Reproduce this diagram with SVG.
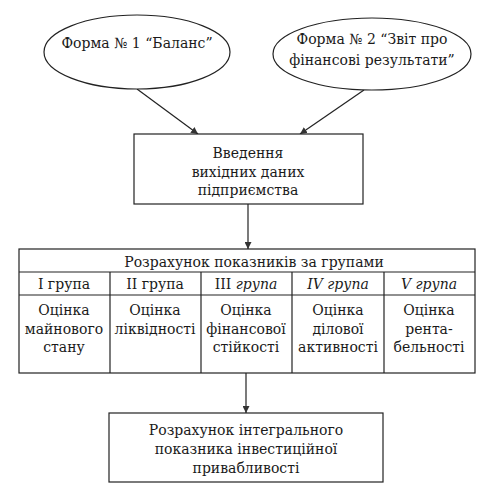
<svg xmlns="http://www.w3.org/2000/svg" width="478" height="491" viewBox="0 0 478 491">
<style>
.s{fill:none;stroke:#222;stroke-width:1.2}
.w{fill:#fff;stroke:#222;stroke-width:1.2}
text{font-family:"DejaVu Serif","Liberation Serif",serif;font-size:14px;fill:#1a1a1a;text-anchor:middle}
.i{font-style:italic}
</style>
<defs>
<marker id="a" viewBox="0 0 10 10" refX="10" refY="5" markerWidth="7" markerHeight="7" orient="auto" markerUnits="userSpaceOnUse">
<path d="M0,0 L10,5 L0,10 Z" fill="#333"/>
</marker>
</defs>
<rect width="478" height="491" fill="#fff"/>
<g id="connectors">
<line class="s" x1="137" y1="89" x2="198" y2="134" marker-end="url(#a)"/>
<line class="s" x1="364" y1="90" x2="300" y2="134" marker-end="url(#a)"/>
<line class="s" x1="248" y1="204" x2="248" y2="249" marker-end="url(#a)"/>
<line class="s" x1="246" y1="373" x2="246" y2="413" marker-end="url(#a)"/>
</g>
<g id="forma1">
<ellipse class="w" cx="137" cy="52" rx="93" ry="37"/>
<text x="137" y="48">Форма № 1 “Баланс”</text>
</g>
<g id="forma2">
<ellipse class="w" cx="372" cy="54" rx="99" ry="36"/>
<text x="372" y="44">Форма № 2 “Звіт про</text>
<text x="372" y="65">фінансові результати”</text>
</g>
<g id="vvedennia">
<rect class="w" x="134" y="134" width="229" height="70"/>
<text x="248" y="158">Введення</text>
<text x="248" y="177">вихідних даних</text>
<text x="248" y="195">підприємства</text>
</g>
<g id="table">
<rect class="w" x="19" y="249" width="456" height="124"/>
<line class="s" x1="19" y1="272" x2="475" y2="272"/>
<line class="s" x1="19" y1="295" x2="475" y2="295"/>
<line class="s" x1="110" y1="272" x2="110" y2="373"/>
<line class="s" x1="201" y1="272" x2="201" y2="373"/>
<line class="s" x1="292" y1="272" x2="292" y2="373"/>
<line class="s" x1="384" y1="272" x2="384" y2="373"/>
<text x="254" y="267">Розрахунок показників за групами</text>
<g id="g1">
<text x="64" y="289">I група</text>
<text x="64" y="315">Оцінка</text>
<text x="64" y="334">майнового</text>
<text x="64" y="352">стану</text>
</g>
<g id="g2">
<text x="155" y="289">II група</text>
<text x="155" y="315">Оцінка</text>
<text x="155" y="334">ліквідності</text>
</g>
<g id="g3">
<text x="246" y="289">III <tspan class="i">група</tspan></text>
<text x="246" y="315">Оцінка</text>
<text x="246" y="334">фінансової</text>
<text x="246" y="352">стійкості</text>
</g>
<g id="g4">
<text x="338" y="289" class="i">IV група</text>
<text x="338" y="315">Оцінка</text>
<text x="338" y="334">ділової</text>
<text x="338" y="352">активності</text>
</g>
<g id="g5">
<text x="429" y="289" class="i">V група</text>
<text x="429" y="315">Оцінка</text>
<text x="429" y="334">рента-</text>
<text x="429" y="352">бельності</text>
</g>
</g>
<g id="integral">
<rect class="w" x="109" y="413" width="274" height="69"/>
<text x="246" y="435">Розрахунок інтегрального</text>
<text x="246" y="454">показника інвестиційної</text>
<text x="246" y="473">привабливості</text>
</g>
</svg>
